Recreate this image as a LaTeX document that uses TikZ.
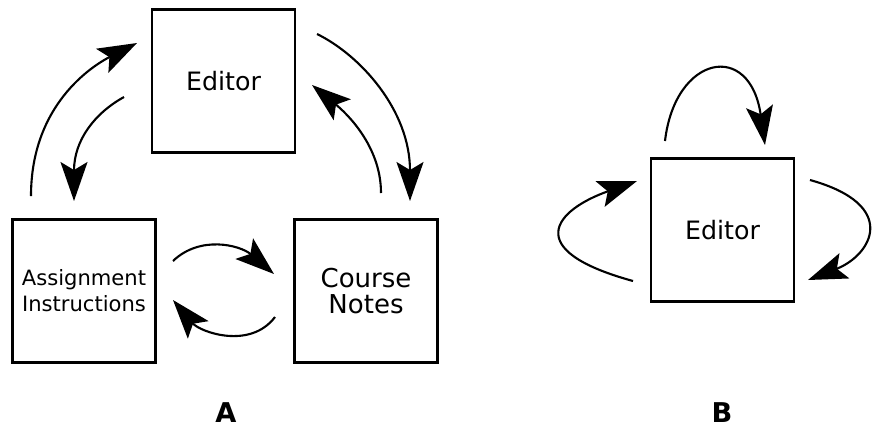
\documentclass[tikz,border=0pt]{standalone}
\usepackage{fontspec}
\setmainfont{DejaVu Sans}
\usetikzlibrary{arrows.meta}

\begin{document}
\begin{tikzpicture}[x=0.02cm, y=-0.02cm,
    box/.style={draw, line width=1.3pt, minimum size=2.86cm, inner sep=0pt, align=center},
    flow/.style={-{Stealth[length=0.78cm, width=0.54cm, inset=0.16cm]}, line width=1.2pt},
    tag/.style={font=\fontsize{15.5pt}{17pt}\selectfont\bfseries, inner sep=0pt}]
    \useasboundingbox (0, 0) rectangle (875, 427);

    \node[box, font=\fontsize{14.4pt}{16pt}\selectfont] (editorA) at (223.5, 81) {Editor};
    \node[box, font=\fontsize{12pt}{14.7pt}\selectfont] (assign) at (84, 291) {Assignment\\Instructions};
    \node[box, font=\fontsize{14.8pt}{14.7pt}\selectfont] (notes) at (366, 291) {Course\\Notes};
    \node[box, font=\fontsize{14.4pt}{16pt}\selectfont] (editorB) at (722.5, 230) {Editor};

    \node[tag] (labelA) at (226, 413) {A};
    \node[tag] (labelB) at (722, 413) {B};

    \coordinate (a1) at (31, 196);  \coordinate (a2) at (137, 43);
    \coordinate (b1) at (124, 97);  \coordinate (b2) at (74, 201);
    \coordinate (c1) at (317, 34);  \coordinate (c2) at (410, 201);
    \coordinate (d1) at (381, 193); \coordinate (d2) at (312, 85);
    \coordinate (e1) at (173, 261); \coordinate (e2) at (274, 274);
    \coordinate (f1) at (275, 317); \coordinate (f2) at (173, 300);
    \coordinate (g1) at (665, 141); \coordinate (g2) at (765, 145);
    \coordinate (h1) at (633, 281); \coordinate (h2) at (637, 181);
    \coordinate (k1) at (810, 180); \coordinate (k2) at (808, 280);

    \draw[flow] (a1) .. controls (31, 105) and (92, 66) .. (a2);
    \draw[flow] (b1) .. controls (95, 113) and (74, 140) .. (b2);
    \draw[flow] (c1) .. controls (360, 55) and (410, 110) .. (c2);
    \draw[flow] (d1) .. controls (381, 145) and (345, 112) .. (d2);
    \draw[flow] (e1) .. controls (200, 235) and (240, 245) .. (e2);
    \draw[flow] (f1) .. controls (250, 350) and (200, 332) .. (f2);

    \draw[flow] (g1) .. controls (675, 55) and (750, 40) .. (g2);
    \draw[flow] (h1) .. controls (520, 250) and (555, 210) .. (h2);
    \draw[flow] (k1) .. controls (900, 205) and (872, 255) .. (k2);
\end{tikzpicture}
\end{document}
